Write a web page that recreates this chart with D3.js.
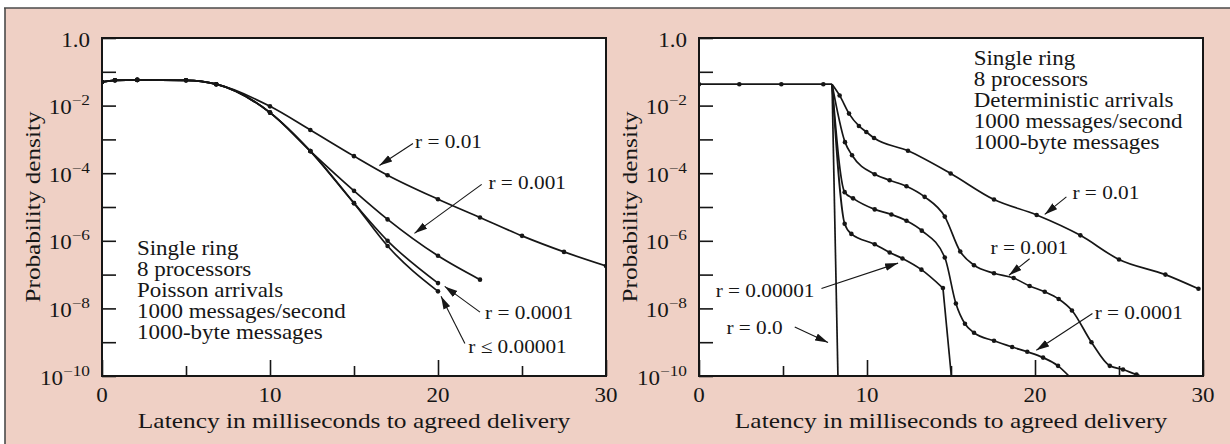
<!DOCTYPE html>
<html><head><meta charset="utf-8">
<script src="https://cdn.jsdelivr.net/npm/d3@7"></script>
<style>
body{margin:0;background:#fff}
svg{display:block}
text{font-family:"Liberation Serif","Times New Roman",serif;fill:#161616}
</style>
</head><body>
<svg id="chart" width="1230" height="444"></svg>
<script>
// ---------------- DATA ----------------
const xMajorTicks = [0, 10, 20, 30];
const xMinorTicks = [5, 15, 25];
const yDecades = [1, 1e-1, 1e-2, 1e-3, 1e-4, 1e-5, 1e-6, 1e-7, 1e-8, 1e-9, 1e-10];
const yLabelValues = [1, 1e-2, 1e-4, 1e-6, 1e-8, 1e-10];
const yLabelBase = ["1.0", "10", "10", "10", "10", "10"];
const yLabelExp  = ["", "\u22122", "\u22124", "\u22126", "\u22128", "\u221210"];
const xAxisTitle = "Latency in milliseconds to agreed delivery";
const yAxisTitle = "Probability density";

// Left panel (Poisson arrivals)
const leftLatency = [0, 0.77, 2.1, 5, 6.8, 10, 12.4, 15, 17, 20, 22.5, 25, 27.5, 30];
const leftR01    = [5.0e-2, 5.6e-2, 5.75e-2, 5.6e-2, 4.3e-2, 9.5e-3, 1.9e-3, 3.2e-4, 8.7e-5, 1.7e-5, 4.9e-6, 1.4e-6, 4.7e-7, 1.8e-7];
const leftR001   = [5.0e-2, 5.6e-2, 5.75e-2, 5.6e-2, 4.3e-2, 6.2e-3, 4.5e-4, 3.0e-5, 4.3e-6, 3.6e-7, 7.1e-8];
const leftR0001  = [5.0e-2, 5.6e-2, 5.75e-2, 5.6e-2, 4.3e-2, 6.2e-3, 4.5e-4, 1.3e-5, 1.0e-6, 5.6e-8];
const leftR00001 = [5.0e-2, 5.6e-2, 5.75e-2, 5.6e-2, 4.3e-2, 6.2e-3, 4.5e-4, 1.3e-5, 7.0e-7, 3.2e-8];
const leftInfo = ["Single ring", "8 processors", "Poisson arrivals", "1000 messages/second", "1000-byte messages"];

// Right panel (deterministic arrivals)
const rightFlatLatency = [0, 2.4, 4.9, 7.4];
const rightFlatValue   = [4.3e-2, 4.3e-2, 4.3e-2, 4.3e-2];
const rightCorner      = [7.92, 4.3e-2];
const rightR01Latency  = [8.37, 8.93, 9.52, 9.96, 10.42, 12.44, 14.98, 17.56, 20.1, 22.7, 25.0, 27.76, 29.73];
const rightR01         = [2.0e-2, 5.8e-3, 2.5e-3, 1.66e-3, 1.1e-3, 4.6e-4, 9.8e-5, 1.66e-5, 5.8e-6, 1.45e-6, 2.8e-7, 1.0e-7, 3.8e-8];
const rightR001Latency = [8.69, 9.11, 10.46, 11.35, 12.35, 13.43, 14.63, 15.55, 16.37, 17.56, 18.73, 19.68, 20.58, 21.41, 22.2, 23.36, 24.45, 25.24, 26.04];
const rightR001        = [8.3e-4, 3.4e-4, 9.3e-5, 6.2e-5, 4.1e-5, 2.0e-5, 5.2e-6, 4.8e-7, 1.9e-7, 1.1e-7, 7.9e-8, 4.6e-8, 3.1e-8, 1.9e-8, 8.7e-9, 1.0e-9, 2.0e-10, 1.55e-10, 1.1e-10];
const rightR001End     = [26.3, 1e-10];
const rightR0001Latency = [8.67, 9.17, 10.46, 11.45, 12.35, 13.26, 14.63, 15.29, 15.83, 16.37, 17.56, 18.64, 19.54, 20.48, 21.37];
const rightR0001        = [2.75e-5, 1.8e-5, 8.5e-6, 6.0e-6, 3.9e-6, 2.0e-6, 3.2e-7, 1.4e-8, 3.5e-9, 1.9e-9, 1.1e-9, 7.2e-10, 5.2e-10, 3.5e-10, 2.0e-10];
const rightR0001End     = [22.02, 1e-10];
const rightR00001Latency = [8.67, 9.07, 10.46, 11.35, 12.11, 13.24, 14.52];
const rightR00001        = [3.2e-6, 1.6e-6, 7.9e-7, 4.5e-7, 3.0e-7, 1.4e-7, 4.0e-8];
const rightR00001End     = [15.02, 1e-10];
const rightR0End         = [8.27, 1e-10];
const rightInfo = ["Single ring", "8 processors", "Deterministic arrivals", "1000 messages/second", "1000-byte messages"];

// Annotation labels: [text, textX, textY(baseline), lineFromX, lineFromY, tipX, tipY] in data units
const leftNotes = [
  ["r = 0.01",      18.63, 10**-3.25, 18.51, 10**-3.12, 16.51, 10**-3.77],
  ["r = 0.001",     23.0,  10**-4.46, 22.6,  10**-4.33, 18.6,  10**-5.78],
  ["r = 0.0001",    22.8,  10**-8.30, 22.5,  10**-8.11, 20.4,  10**-7.35],
  ["r \u2264 0.00001", 21.8, 10**-9.31, 21.6, 10**-9.04, 20.18, 10**-7.64]
];
const rightNotes = [
  ["r = 0.01",     22.23, 10**-4.77, 21.87, 10**-4.70, 20.58, 10**-5.22],
  ["r = 0.001",    17.35, 10**-6.38, 19.68, 10**-6.53, 18.45, 10**-7.02],
  ["r = 0.0001",   23.55, 10**-8.30, 23.42, 10**-8.15, 20.08, 10**-9.24],
  ["r = 0.00001",  0.99,  10**-7.66, 7.29,  10**-7.41, 11.85, 10**-6.66],
  ["r = 0.0",      1.63,  10**-8.77, 5.70,  10**-8.55, 7.68,  10**-9.01]
];
const leftInfoAnchor  = [2.08, 10**-6.43];
const rightInfoAnchor = [16.35, 10**-0.79];

// ---------------- DRAWING ----------------
const svg = d3.select("#chart");
const SX = 1.15;           // horizontal stretch of the serif face
const ink = "#161616";

svg.append("rect").attr("x", 5).attr("y", 8).attr("width", 1225).attr("height", 436).attr("fill", "#efd0c5");
svg.append("line").attr("x1", 4).attr("x2", 1230).attr("y1", 8).attr("y2", 8).attr("stroke", "#4a4a4a").attr("stroke-width", 1.6);
svg.append("line").attr("x1", 5).attr("x2", 5).attr("y1", 8).attr("y2", 444).attr("stroke", "#4a4a4a").attr("stroke-width", 1.6);

const defs = svg.append("defs");
defs.append("marker").attr("id", "arrow").attr("markerUnits", "userSpaceOnUse")
  .attr("markerWidth", 14).attr("markerHeight", 8).attr("refX", 13).attr("refY", 3.75).attr("orient", "auto")
  .append("path").attr("d", "M0,0 L13,3.75 L0,7.5 Z").attr("fill", ink);

function txt(g, x, y, s, o = {}) {
  const t = g.append("text")
    .attr("transform", `translate(${x},${y})${o.rot ? ` rotate(${o.rot})` : ""} scale(${o.sx || SX},1)`)
    .attr("text-anchor", o.anchor || "start")
    .style("font-size", (o.size || 20) + "px");
  if (s !== null) t.text(s);
  return t;
}

const plotTop = 38, plotBottom = 376;
const y = d3.scaleLog().domain([1e-10, 1]).range([plotBottom, plotTop]);

function panel(id, x0, x1) {
  const x = d3.scaleLinear().domain([0, 30]).range([x0, x1]);
  const g = svg.append("g");
  g.append("rect").attr("x", x0).attr("y", plotTop).attr("width", x1 - x0).attr("height", plotBottom - plotTop).attr("fill", "#fff");
  defs.append("clipPath").attr("id", "clip" + id).append("rect")
    .attr("x", x0).attr("y", plotTop).attr("width", x1 - x0).attr("height", plotBottom - plotTop);

  g.append("g").attr("transform", `translate(${x0},0)`)
    .call(d3.axisLeft(y).tickValues(yDecades).tickSize(-14).tickFormat(""))
    .call(a => a.select(".domain").remove())
    .call(a => a.selectAll("line").attr("stroke", ink).attr("stroke-width", 1.6));
  g.append("g").attr("transform", `translate(0,${plotBottom})`)
    .call(d3.axisBottom(x).tickValues(xMajorTicks).tickSize(-16).tickFormat(""))
    .call(a => a.select(".domain").remove())
    .call(a => a.selectAll("line").attr("stroke", ink).attr("stroke-width", 1.6));
  g.append("g").attr("transform", `translate(0,${plotBottom})`)
    .call(d3.axisBottom(x).tickValues(xMinorTicks).tickSize(-10).tickFormat(""))
    .call(a => a.select(".domain").remove())
    .call(a => a.selectAll("line").attr("stroke", ink).attr("stroke-width", 1.6));

  yLabelValues.forEach((v, i) => {
    const t = txt(g, x0 - 12, y(v) + 8.5, null, { anchor: "end" });
    t.append("tspan").text(yLabelBase[i]);
    if (yLabelExp[i]) t.append("tspan").attr("dy", -9).style("font-size", "15px").text(yLabelExp[i]);
  });
  xMajorTicks.forEach(v => txt(g, x(v), plotBottom + 25.5, String(v), { anchor: "middle" }));
  txt(g, (x0 + x1) / 2, 428, xAxisTitle, { anchor: "middle", size: 21, sx: 1.21 });
  txt(g, x0 - 62, (plotTop + plotBottom) / 2, yAxisTitle, { anchor: "middle", rot: -90, size: 21, sx: 1.2 });

  const plot = g.append("g").attr("clip-path", `url(#clip${id})`);
  return { g, plot, x };
}

function zip(xs, ys) { return xs.map((v, i) => [v, ys[i]]); }
function drawCurve(p, x, pts, curve) {
  const line = d3.line().x(d => x(d[0])).y(d => y(d[1])).curve(curve || d3.curveMonotoneX);
  p.append("path").datum(pts).attr("d", line).attr("fill", "none").attr("stroke", ink).attr("stroke-width", 1.7);
}
function drawDots(p, x, pts) {
  p.selectAll(null).data(pts).enter().append("circle")
    .attr("cx", d => x(d[0])).attr("cy", d => y(d[1])).attr("r", 2.3).attr("fill", ink);
}
function drawNotes(g, x, notes) {
  notes.forEach(n => {
    txt(g, x(n[1]), y(n[2]), n[0], { size: 19, sx: 1.12 });
    g.append("line").attr("x1", x(n[3])).attr("y1", y(n[4])).attr("x2", x(n[5])).attr("y2", y(n[6]))
      .attr("stroke", ink).attr("stroke-width", 1.1).attr("marker-end", "url(#arrow)");
  });
}
function drawInfo(g, x, anchor, lines) {
  lines.forEach((s, i) => txt(g, x(anchor[0]), y(anchor[1]) + i * 21, s));
}

// Left panel
const L = panel("L", 102, 606);
[leftR01, leftR001, leftR0001, leftR00001].forEach(vals => {
  const pts = zip(leftLatency.slice(0, vals.length), vals);
  drawCurve(L.plot, L.x, pts);
  drawDots(L.plot, L.x, pts);
});
drawNotes(L.g, L.x, leftNotes);
drawInfo(L.g, L.x, leftInfoAnchor, leftInfo);

// Right panel
const R = panel("R", 699, 1203);
const flat = zip(rightFlatLatency, rightFlatValue);
drawCurve(R.plot, R.x, flat.concat([rightCorner]), d3.curveLinear);
drawDots(R.plot, R.x, flat);
const r01 = zip(rightR01Latency, rightR01);
drawCurve(R.plot, R.x, [rightCorner].concat(r01));
drawDots(R.plot, R.x, r01);
const r001 = zip(rightR001Latency, rightR001);
drawCurve(R.plot, R.x, [rightCorner].concat(r001, [rightR001End]));
drawDots(R.plot, R.x, r001);
const r0001 = zip(rightR0001Latency, rightR0001);
drawCurve(R.plot, R.x, [rightCorner].concat(r0001, [rightR0001End]));
drawDots(R.plot, R.x, r0001);
const r00001 = zip(rightR00001Latency, rightR00001);
drawCurve(R.plot, R.x, [rightCorner].concat(r00001));
drawCurve(R.plot, R.x, [r00001[r00001.length - 1], rightR00001End], d3.curveLinear);
drawDots(R.plot, R.x, r00001);
drawCurve(R.plot, R.x, [rightCorner, rightR0End], d3.curveLinear);
drawNotes(R.g, R.x, rightNotes);
drawInfo(R.g, R.x, rightInfoAnchor, rightInfo);

[[102, 606], [699, 1203]].forEach(([a, b]) => {
  svg.append("rect").attr("x", a).attr("y", plotTop).attr("width", b - a).attr("height", plotBottom - plotTop)
    .attr("fill", "none").attr("stroke", ink).attr("stroke-width", 2);
});
</script>
</body></html>
